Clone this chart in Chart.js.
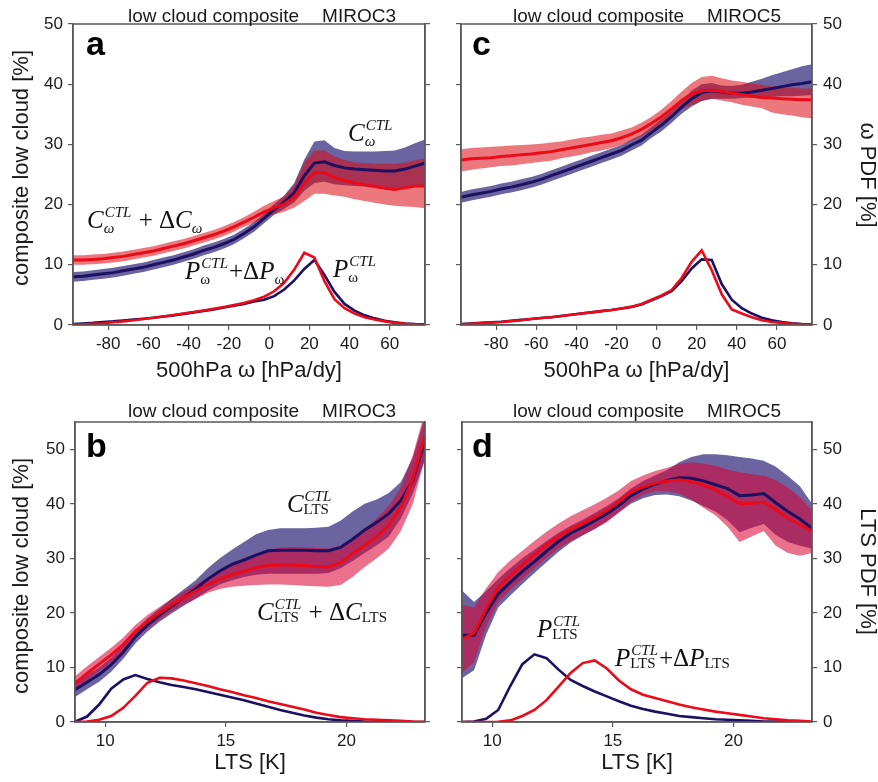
<!DOCTYPE html>
<html>
<head>
<meta charset="utf-8">
<script src="https://cdn.jsdelivr.net/npm/chart.js@4.4.0/dist/chart.umd.min.js"></script>
<style>
  body { margin: 0; background: #fff; }
  #wrap { position: relative; width: 878px; height: 782px; }
  #wrap canvas { position: absolute; }
</style>
</head>
<body>
<div id="wrap">
  <canvas id="chartA" width="439" height="391" style="left:0;top:0"></canvas>
  <canvas id="chartC" width="439" height="391" style="left:439px;top:0"></canvas>
  <canvas id="chartB" width="439" height="391" style="left:0;top:391px"></canvas>
  <canvas id="chartD" width="439" height="391" style="left:439px;top:391px"></canvas>
</div>
<script>
// bin centres
const omega = [-97.5, -92.5, -87.5, -82.5, -77.5, -72.5, -67.5, -62.5, -57.5, -52.5, -47.5, -42.5,
  -37.5, -32.5, -27.5, -22.5, -17.5, -12.5, -7.5, -2.5, 2.5, 7.5, 12.5, 17.5,
  22.5, 27.5, 32.5, 37.5, 42.5, 47.5, 52.5, 57.5, 62.5, 67.5, 72.5, 77.5];
const lts = [8.75, 9.25, 9.75, 10.25, 10.75, 11.25, 11.75, 12.25, 12.75, 13.25, 13.75, 14.25, 14.75, 15.25, 15.75,
  16.25, 16.75, 17.25, 17.75, 18.25, 18.75, 19.25, 19.75, 20.25, 20.75, 21.25, 21.75, 22.25, 22.75, 23.25];

const omegaTicks = [-80, -60, -40, -20, 0, 20, 40, 60];
const ltsTicks = [10, 15, 20];
const cloudTicks = [0, 10, 20, 30, 40, 50];

// MIROC3, omega composite (a)
const m3OmegaCtl = [8.0, 8.1, 8.3, 8.5, 8.7, 9.0, 9.3, 9.6, 10.0, 10.4, 10.8, 11.3, 11.8, 12.4, 12.9, 13.5, 14.2, 15.2, 16.3, 17.7, 19.2, 20.4, 22.0, 24.8, 26.9, 27.1, 26.5, 26.1, 25.9, 25.8, 25.7, 25.6, 25.6, 25.9, 26.4, 26.9];
const m3OmegaCtlHi = [8.8, 8.9, 9.1, 9.3, 9.5, 9.8, 10.1, 10.4, 10.8, 11.2, 11.6, 12.1, 12.6, 13.2, 13.7, 14.3, 15.0, 16.0, 17.1, 18.5, 20.1, 21.5, 23.6, 27.5, 30.5, 30.7, 29.4, 28.9, 28.8, 28.8, 28.8, 28.9, 29.0, 29.5, 30.2, 30.8];
const m3OmegaCtlLo = [7.2, 7.3, 7.5, 7.7, 7.9, 8.2, 8.5, 8.8, 9.2, 9.6, 10.0, 10.5, 11.0, 11.6, 12.1, 12.7, 13.4, 14.4, 15.5, 16.9, 18.3, 19.3, 20.4, 22.3, 23.6, 23.8, 23.4, 23.2, 23.1, 23.0, 22.9, 22.8, 22.7, 22.8, 23.0, 23.2];
const m3OmegaWarm = [10.8, 10.8, 10.9, 11.0, 11.2, 11.4, 11.7, 12.0, 12.3, 12.7, 13.1, 13.5, 14.0, 14.5, 15.0, 15.6, 16.3, 17.1, 17.9, 18.8, 19.5, 20.1, 21.2, 23.6, 25.3, 25.3, 24.5, 24.0, 23.6, 23.3, 23.0, 22.7, 22.5, 22.8, 23.1, 23.1];
const m3OmegaWarmHi = [11.6, 11.6, 11.7, 11.8, 12.0, 12.2, 12.5, 12.8, 13.1, 13.5, 13.9, 14.3, 14.8, 15.3, 15.8, 16.4, 17.1, 17.9, 18.8, 19.8, 20.6, 21.4, 23.2, 27.0, 29.0, 29.0, 28.0, 27.4, 27.0, 26.9, 26.8, 26.8, 26.8, 27.0, 27.4, 27.6];
const m3OmegaWarmLo = [10.0, 10.0, 10.1, 10.2, 10.4, 10.6, 10.9, 11.2, 11.5, 11.9, 12.3, 12.7, 13.2, 13.7, 14.2, 14.8, 15.5, 16.3, 17.0, 17.8, 18.4, 18.8, 19.5, 20.6, 21.8, 21.8, 21.5, 21.3, 20.9, 20.6, 20.3, 20.0, 19.8, 19.7, 19.6, 19.4];
const m3OmegaPdfCtl = [0.15, 0.25, 0.35, 0.5, 0.6, 0.75, 0.9, 1.05, 1.2, 1.4, 1.6, 1.85, 2.1, 2.35, 2.6, 2.9, 3.2, 3.5, 3.9, 4.2, 4.8, 5.9, 7.4, 9.3, 10.8, 8.3, 5.5, 3.5, 2.4, 1.6, 1.1, 0.7, 0.45, 0.25, 0.15, 0.1];
const m3OmegaPdfWarm = [0.05, 0.1, 0.2, 0.3, 0.45, 0.6, 0.8, 1.0, 1.2, 1.4, 1.65, 1.9, 2.15, 2.4, 2.7, 3.0, 3.3, 3.65, 4.1, 4.7, 5.6, 7.0, 9.2, 12.0, 11.2, 7.3, 4.3, 2.8, 1.9, 1.3, 0.9, 0.6, 0.35, 0.2, 0.1, 0.05];

// MIROC5, omega composite (c)
const m5OmegaCtl = [21.2, 21.6, 21.9, 22.2, 22.6, 22.9, 23.3, 23.7, 24.2, 24.8, 25.4, 26.0, 26.6, 27.2, 27.8, 28.4, 29.0, 29.9, 30.7, 32.0, 33.2, 34.6, 36.2, 37.6, 38.6, 38.9, 38.7, 38.5, 38.5, 38.7, 39.0, 39.3, 39.6, 39.9, 40.1, 40.4];
const m5OmegaCtlHi = [22.1, 22.5, 22.8, 23.1, 23.5, 23.8, 24.2, 24.6, 25.1, 25.7, 26.3, 26.9, 27.5, 28.1, 28.7, 29.3, 29.9, 30.8, 31.6, 32.9, 34.2, 35.6, 37.3, 38.9, 40.0, 40.2, 39.8, 39.7, 39.9, 40.4, 40.9, 41.5, 42.0, 42.5, 43.0, 43.3];
const m5OmegaCtlLo = [20.3, 20.7, 21.0, 21.3, 21.7, 22.0, 22.4, 22.8, 23.3, 23.9, 24.5, 25.1, 25.7, 26.3, 26.9, 27.5, 28.1, 29.0, 29.8, 31.1, 32.2, 33.6, 35.1, 36.3, 37.2, 37.6, 37.6, 37.6, 37.7, 37.8, 37.9, 37.9, 38.0, 38.0, 38.1, 38.2];
const m5OmegaWarm = [27.4, 27.6, 27.7, 27.8, 28.0, 28.1, 28.3, 28.4, 28.6, 28.8, 29.1, 29.4, 29.7, 30.0, 30.3, 30.6, 31.1, 31.7, 32.5, 33.5, 34.6, 35.9, 37.3, 38.4, 38.9, 39.0, 38.8, 38.5, 38.3, 38.0, 37.8, 37.7, 37.6, 37.5, 37.4, 37.4];
const m5OmegaWarmHi = [29.2, 29.4, 29.5, 29.6, 29.7, 29.8, 29.9, 30.0, 30.1, 30.3, 30.5, 30.8, 31.1, 31.3, 31.6, 31.8, 32.3, 32.8, 33.6, 34.6, 35.8, 37.2, 38.8, 40.2, 41.2, 41.4, 41.0, 40.6, 40.4, 40.1, 39.9, 39.6, 39.5, 39.4, 39.3, 39.3];
const m5OmegaWarmLo = [25.5, 25.8, 26.0, 26.2, 26.4, 26.5, 26.7, 26.9, 27.1, 27.3, 27.7, 28.0, 28.3, 28.7, 29.0, 29.4, 29.9, 30.6, 31.4, 32.4, 33.4, 34.6, 35.9, 36.5, 37.2, 37.6, 37.3, 37.0, 36.6, 36.3, 36.0, 35.3, 35.0, 34.8, 34.5, 34.3];
const m5OmegaPdfCtl = [0.15, 0.25, 0.35, 0.45, 0.55, 0.7, 0.85, 1.0, 1.15, 1.3, 1.5, 1.7, 1.9, 2.1, 2.3, 2.5, 2.75, 3.0, 3.4, 4.1, 4.8, 5.6, 7.3, 9.4, 10.9, 10.8, 6.8, 4.2, 2.8, 1.9, 1.2, 0.8, 0.5, 0.3, 0.15, 0.1];
const m5OmegaPdfWarm = [0.1, 0.2, 0.3, 0.4, 0.5, 0.65, 0.8, 1.0, 1.15, 1.3, 1.5, 1.7, 1.9, 2.1, 2.3, 2.5, 2.75, 3.05, 3.5, 4.2, 4.9, 5.8, 7.8, 10.5, 12.4, 9.1, 5.1, 2.6, 1.9, 1.3, 0.8, 0.5, 0.35, 0.2, 0.1, 0.05];

// MIROC3, LTS composite (b)
const m3LtsCtl = [5.9, 7.3, 8.7, 10.5, 12.8, 15.6, 17.8, 19.6, 21.2, 22.8, 24.4, 26.2, 27.7, 28.9, 29.7, 30.6, 31.4, 31.5, 31.5, 31.5, 31.4, 31.4, 32.0, 33.5, 35.2, 36.6, 38.2, 40.6, 44.3, 51.6];
const m3LtsCtlHi = [7.2, 8.6, 10.0, 11.8, 14.0, 16.8, 19.0, 20.8, 22.6, 24.3, 26.0, 28.2, 30.0, 31.6, 33.0, 34.4, 35.2, 35.5, 35.5, 35.5, 35.6, 35.8, 36.9, 38.6, 40.0, 40.8, 42.0, 44.0, 48.5, 56.0];
const m3LtsCtlLo = [4.6, 6.0, 7.4, 9.2, 11.6, 14.4, 16.6, 18.4, 19.9, 21.3, 22.6, 24.0, 25.2, 26.0, 26.6, 27.0, 27.2, 27.2, 27.2, 27.2, 27.2, 27.3, 28.2, 29.5, 31.0, 32.4, 34.0, 37.3, 42.0, 48.0];
const m3LtsWarm = [7.1, 8.9, 10.6, 12.3, 14.2, 16.6, 18.4, 20.0, 21.5, 22.8, 24.0, 25.2, 26.2, 27.0, 27.6, 28.3, 28.7, 28.8, 28.8, 28.7, 28.5, 28.4, 29.2, 30.9, 32.4, 34.0, 36.0, 39.4, 44.6, 52.6];
const m3LtsWarmHi = [8.4, 10.2, 11.9, 13.6, 15.5, 17.8, 19.6, 21.1, 22.6, 23.9, 25.2, 26.5, 27.7, 28.8, 29.7, 30.8, 31.5, 32.0, 32.1, 32.0, 31.9, 31.8, 32.3, 33.6, 35.2, 37.3, 39.6, 43.0, 49.0, 57.0];
const m3LtsWarmLo = [5.8, 7.6, 9.3, 11.0, 12.9, 15.3, 17.2, 18.8, 20.3, 21.5, 22.6, 23.7, 24.4, 24.8, 25.0, 25.1, 25.2, 25.2, 25.1, 25.0, 24.9, 24.8, 25.1, 26.6, 28.4, 30.0, 31.8, 35.0, 40.0, 48.6];
const m3LtsPdfCtl = [0.05, 1.0, 3.2, 6.1, 7.8, 8.6, 7.9, 7.3, 6.8, 6.4, 6.0, 5.5, 5.0, 4.5, 4.0, 3.4, 2.8, 2.2, 1.7, 1.2, 0.8, 0.5, 0.3, 0.2, 0.1, 0.05, 0.05, 0.02, 0.01, 0];
const m3LtsPdfWarm = [0, 0.1, 0.4, 1.1, 2.6, 4.8, 7.2, 8.1, 8.0, 7.6, 7.1, 6.6, 6.0, 5.5, 4.9, 4.4, 3.8, 3.3, 2.8, 2.3, 1.7, 1.3, 0.9, 0.7, 0.5, 0.4, 0.3, 0.2, 0.1, 0.05];

// MIROC5, LTS composite (d)
const m5LtsCtl = [15.9, 15.9, 20.0, 23.5, 25.6, 27.6, 29.4, 31.3, 33.1, 34.6, 35.7, 36.9, 38.2, 39.7, 41.5, 42.7, 43.6, 44.3, 44.8, 44.7, 44.2, 43.5, 42.8, 41.5, 41.6, 41.9, 40.2, 38.6, 37.2, 35.5];
const m5LtsCtlHi = [24.1, 22.0, 24.0, 26.2, 28.2, 30.0, 31.6, 33.2, 34.7, 36.0, 37.1, 38.3, 39.6, 41.0, 42.8, 44.2, 45.2, 46.2, 47.6, 48.6, 49.1, 49.1, 48.9, 48.6, 48.3, 47.9, 46.8, 45.1, 43.2, 40.0];
const m5LtsCtlLo = [8.0, 9.5, 16.0, 21.0, 23.2, 25.3, 27.3, 29.3, 31.2, 32.9, 34.2, 35.4, 36.8, 38.4, 40.0, 41.0, 41.6, 41.7, 41.4, 40.6, 39.6, 38.6, 37.0, 34.8, 35.6, 36.3, 34.3, 33.0, 32.3, 31.8];
const m5LtsWarm = [15.2, 16.3, 20.8, 24.7, 26.8, 28.8, 30.7, 32.5, 34.0, 35.3, 36.4, 37.5, 38.8, 40.4, 42.2, 43.1, 43.8, 44.2, 44.4, 44.1, 43.4, 42.6, 41.3, 40.0, 40.1, 40.3, 38.9, 37.4, 36.2, 35.0];
const m5LtsWarmHi = [21.5, 21.0, 24.5, 27.5, 29.6, 31.4, 33.2, 34.9, 36.4, 37.7, 38.8, 39.9, 41.1, 42.5, 44.2, 45.2, 46.0, 46.6, 47.3, 47.6, 47.4, 47.0, 46.3, 45.8, 45.4, 45.2, 44.3, 43.0, 41.2, 38.8];
const m5LtsWarmLo = [9.0, 11.0, 17.5, 22.0, 24.2, 26.2, 28.2, 30.1, 31.8, 33.2, 34.3, 35.4, 36.6, 38.4, 40.4, 41.6, 42.3, 42.3, 41.9, 40.8, 39.3, 37.9, 35.8, 33.0, 34.0, 35.0, 32.3, 31.0, 30.5, 31.0];
const m5LtsPdfCtl = [0, 0.1, 0.6, 2.2, 6.6, 10.6, 12.4, 11.7, 9.6, 7.7, 6.6, 5.6, 4.7, 3.8, 3.0, 2.4, 1.9, 1.5, 1.1, 0.9, 0.7, 0.5, 0.4, 0.3, 0.2, 0.1, 0.1, 0.05, 0.02, 0];
const m5LtsPdfWarm = [0, 0, 0, 0.05, 0.3, 1.1, 2.2, 4.0, 6.5, 9.0, 10.8, 11.3, 9.8, 7.6, 6.0, 5.0, 4.4, 3.8, 3.2, 2.7, 2.3, 1.9, 1.6, 1.3, 1.0, 0.7, 0.5, 0.3, 0.2, 0.1];

const SANS = '"Liberation Sans", Arial, sans-serif';
const SERIF = '"Liberation Serif", "Times New Roman", serif';
const BLUE = 'rgb(28,16,98)';
const RED = 'rgb(236,10,24)';
const BLUE_BAND = 'rgb(108,100,160)';
const RED_BAND = 'rgba(220,10,20,0.55)';
const PINK_BAND = 'rgba(220,0,50,0.56)';
const AXIS = '#5a5a5a';

function pts(xs, ys) {
  return xs.map((x, i) => ({ x: x, y: ys[i] }));
}

function lineSet(xs, ys, color, width, axis) {
  return { data: pts(xs, ys), borderColor: color, borderWidth: width, pointRadius: 0,
    tension: 0, fill: false, yAxisID: axis };
}

function bandEdge(xs, ys, color) {
  return { data: pts(xs, ys), borderColor: 'transparent', borderWidth: 0, pointRadius: 0,
    tension: 0, fill: color ? '+1' : false, backgroundColor: color || 'transparent', yAxisID: 'y' };
}

// italic serif math with stacked super/subscripts
function drawMath(ctx, x, y, parts) {
  let cx = x;
  ctx.textAlign = 'left';
  ctx.textBaseline = 'alphabetic';
  parts.forEach(p => {
    if (p.t !== undefined) {
      ctx.font = (p.it ? 'italic ' : '') + '25px ' + SERIF;
      ctx.fillText(p.t, cx, y);
      cx += ctx.measureText(p.t).width;
    } else {
      let w = 0;
      if (p.sup) {
        ctx.font = 'italic 15px ' + SERIF;
        ctx.fillText(p.sup, cx + 1, y - 11);
        w = Math.max(w, ctx.measureText(p.sup).width + 1);
      }
      if (p.sub) {
        ctx.font = (p.subIt ? 'italic ' : '') + '15px ' + SERIF;
        ctx.fillText(p.sub, cx, y + (p.sub === 'ω' ? 5 : 2));
        w = Math.max(w, ctx.measureText(p.sub).width);
      }
      cx += w + 1;
    }
  });
}

const panelText = {
  id: 'panelText',
  afterDraw(chart, args, o) {
    const ctx = chart.ctx;
    const a = chart.chartArea;
    ctx.save();
    ctx.strokeStyle = AXIS;
    ctx.lineWidth = 1.5;
    ctx.strokeRect(a.left, a.top, a.right - a.left, a.bottom - a.top);

    ctx.fillStyle = '#1a1a1a';
    ctx.textBaseline = 'alphabetic';
    ctx.textAlign = 'left';
    ctx.font = '19px ' + SANS;
    ctx.fillText('low cloud composite', o.title.x, o.title.y);
    const w = ctx.measureText('low cloud composite').width;
    ctx.fillText(o.model, o.title.x + w + 23, o.title.y);

    ctx.font = 'bold 34px ' + SANS;
    ctx.fillStyle = '#000';
    ctx.fillText(o.letter.t, o.letter.x, o.letter.y);

    ctx.fillStyle = '#1a1a1a';
    ctx.font = '22px ' + SANS;
    ctx.textAlign = 'center';
    ctx.fillText(o.xTitle.t, o.xTitle.x, o.xTitle.y);
    if (o.yTitle) {
      ctx.save();
      ctx.translate(o.yTitle.x, o.yTitle.y);
      ctx.rotate(-Math.PI / 2);
      ctx.fillText(o.yTitle.t, 0, 0);
      ctx.restore();
    }
    if (o.rTitle) {
      ctx.save();
      ctx.translate(o.rTitle.x, o.rTitle.y);
      ctx.rotate(Math.PI / 2);
      ctx.fillText(o.rTitle.t, 0, 0);
      ctx.restore();
    }

    ctx.fillStyle = '#111';
    o.labels.forEach(l => {
      drawMath(ctx, chart.scales.x.getPixelForValue(l.x), chart.scales.y.getPixelForValue(l.y), l.parts);
    });
    ctx.restore();
  }
};

function makePanel(id, p) {
  const W = 439, H = 391;
  const grid = { display: true, drawOnChartArea: false, drawTicks: true, tickLength: 5, color: AXIS, lineWidth: 1.2 };
  const border = { display: true, color: AXIS, width: 1.5 };
  const tickFont = { family: SANS, size: 17 };
  const yScale = (pos, labels, width) => ({
    type: 'linear', position: pos, min: 0, max: p.yMax,
    afterBuildTicks: s => { s.ticks = cloudTicks.map(v => ({ value: v })); },
    ticks: { display: labels, font: tickFont, color: '#1a1a1a', padding: pos === 'left' ? 5 : 6 },
    grid: grid, border: border,
    afterFit: s => { s.width = width; }
  });
  new Chart(document.getElementById(id), {
    type: 'line',
    data: {
      datasets: [
        lineSet(p.xs, p.warm, RED, 3, 'y'),
        lineSet(p.xs, p.ctl, BLUE, 3, 'y'),
        lineSet(p.xs, p.pdfWarm, RED, 2.6, 'y2'),
        lineSet(p.xs, p.pdfCtl, BLUE, 2.6, 'y2'),
        bandEdge(p.xs, p.warmHi, p.warmBand),
        bandEdge(p.xs, p.warmLo, null),
        bandEdge(p.xs, p.ctlHi, BLUE_BAND),
        bandEdge(p.xs, p.ctlLo, null)
      ]
    },
    options: {
      responsive: false,
      animation: false,
      layout: { padding: { top: p.area.top, left: 0, right: 0, bottom: 0 } },
      scales: {
        x: {
          type: 'linear', min: p.xMin, max: p.xMax,
          afterBuildTicks: s => { s.ticks = p.xTicks.map(v => ({ value: v })); },
          ticks: { font: tickFont, color: '#1a1a1a', padding: 4, maxRotation: 0, autoSkip: false },
          grid: grid, border: border,
          afterFit: s => { s.height = H - p.area.bottom; }
        },
        y: yScale('left', p.leftLabels, p.area.left),
        y2: yScale('right', !p.leftLabels, W - p.area.right)
      },
      plugins: {
        legend: { display: false },
        tooltip: { enabled: false },
        panelText: p.text
      }
    },
    plugins: [panelText]
  });
}

const C = { t: 'C', it: true };
const P = { t: 'P', it: true };

makePanel('chartA', {
  xs: omega, xMin: -97.5, xMax: 77.5, xTicks: omegaTicks, yMax: 50,
  area: { left: 73, right: 425, top: 24, bottom: 325 }, leftLabels: true,
  ctl: m3OmegaCtl, ctlHi: m3OmegaCtlHi, ctlLo: m3OmegaCtlLo,
  warm: m3OmegaWarm, warmHi: m3OmegaWarmHi, warmLo: m3OmegaWarmLo,
  pdfCtl: m3OmegaPdfCtl, pdfWarm: m3OmegaPdfWarm, warmBand: RED_BAND,
  text: {
    model: 'MIROC3', title: { x: 128, y: 21.5 }, letter: { t: 'a', x: 86, y: 55 },
    xTitle: { t: '500hPa ω [hPa/dy]', x: 249, y: 377 },
    yTitle: { t: 'composite low cloud [%]', x: 28, y: 168 },
    labels: [
      { x: 39.2, y: 30.6, parts: [C, { sup: 'CTL', sub: 'ω', subIt: true }] },
      { x: -90.5, y: 16.1, parts: [C, { sup: 'CTL', sub: 'ω', subIt: true }, { t: ' + Δ' }, C, { sub: 'ω', subIt: true }] },
      { x: -41.8, y: 7.6, parts: [P, { sup: 'CTL', sub: 'ω' }, { t: '+Δ' }, P, { sub: 'ω' }] },
      { x: 31.8, y: 8.0, parts: [P, { sup: 'CTL', sub: 'ω' }] }
    ]
  }
});

makePanel('chartC', {
  xs: omega, xMin: -97.5, xMax: 77.5, xTicks: omegaTicks, yMax: 50,
  area: { left: 22, right: 373, top: 24, bottom: 325 }, leftLabels: false,
  ctl: m5OmegaCtl, ctlHi: m5OmegaCtlHi, ctlLo: m5OmegaCtlLo,
  warm: m5OmegaWarm, warmHi: m5OmegaWarmHi, warmLo: m5OmegaWarmLo,
  pdfCtl: m5OmegaPdfCtl, pdfWarm: m5OmegaPdfWarm, warmBand: RED_BAND,
  text: {
    model: 'MIROC5', title: { x: 74, y: 21.5 }, letter: { t: 'c', x: 33, y: 55 },
    xTitle: { t: '500hPa ω [hPa/dy]', x: 197.5, y: 377 },
    rTitle: { t: 'ω PDF [%]', x: 422, y: 175 },
    labels: []
  }
});

makePanel('chartB', {
  xs: lts, xMin: 8.75, xMax: 23.25, xTicks: ltsTicks, yMax: 55,
  area: { left: 75, right: 425, top: 31, bottom: 331 }, leftLabels: true,
  ctl: m3LtsCtl, ctlHi: m3LtsCtlHi, ctlLo: m3LtsCtlLo,
  warm: m3LtsWarm, warmHi: m3LtsWarmHi, warmLo: m3LtsWarmLo,
  pdfCtl: m3LtsPdfCtl, pdfWarm: m3LtsPdfWarm, warmBand: PINK_BAND,
  text: {
    model: 'MIROC3', title: { x: 128, y: 25.7 }, letter: { t: 'b', x: 86, y: 65.7 },
    xTitle: { t: 'LTS [K]', x: 250, y: 378 },
    yTitle: { t: 'composite low cloud [%]', x: 28, y: 185 },
    labels: [
      { x: 17.53, y: 38.5, parts: [C, { sup: 'CTL', sub: 'LTS' }] },
      { x: 16.29, y: 18.7, parts: [C, { sup: 'CTL', sub: 'LTS' }, { t: ' + Δ' }, C, { sub: 'LTS' }] }
    ]
  }
});

makePanel('chartD', {
  xs: lts, xMin: 8.75, xMax: 23.25, xTicks: ltsTicks, yMax: 55,
  area: { left: 23, right: 373, top: 31, bottom: 331 }, leftLabels: false,
  ctl: m5LtsCtl, ctlHi: m5LtsCtlHi, ctlLo: m5LtsCtlLo,
  warm: m5LtsWarm, warmHi: m5LtsWarmHi, warmLo: m5LtsWarmLo,
  pdfCtl: m5LtsPdfCtl, pdfWarm: m5LtsPdfWarm, warmBand: PINK_BAND,
  text: {
    model: 'MIROC5', title: { x: 74, y: 25.7 }, letter: { t: 'd', x: 33, y: 65.7 },
    xTitle: { t: 'LTS [K]', x: 198, y: 378 },
    rTitle: { t: 'LTS PDF [%]', x: 422, y: 180.5 },
    labels: [
      { x: 11.86, y: 15.5, parts: [P, { sup: 'CTL', sub: 'LTS' }] },
      { x: 15.09, y: 10.2, parts: [P, { sup: 'CTL', sub: 'LTS' }, { t: '+Δ' }, P, { sub: 'LTS' }] }
    ]
  }
});
</script>
</body>
</html>
